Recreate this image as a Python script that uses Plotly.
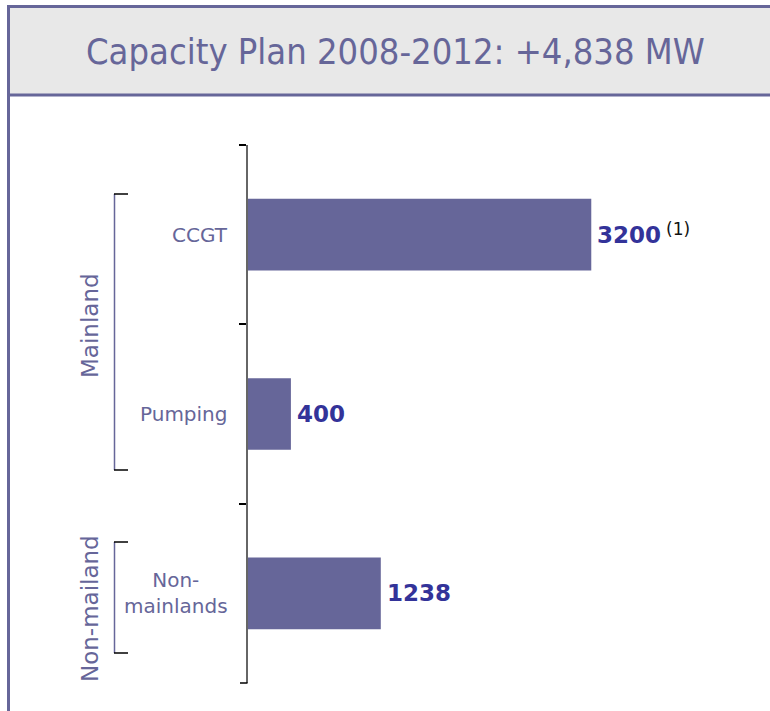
import plotly.graph_objects as go

# Capacity additions planned for 2008-2012 (MW)
categories = ["CCGT", "Pumping", "Non-mainlands"]
category_labels = ["CCGT", "Pumping", "Non-<br>mainlands"]
capacity_mw = [3200, 400, 1238]
value_notes = ["(1)", "", ""]

groups = ["Mainland", "Non-mailand"]
title_text = "Capacity Plan 2008-2012: +4,838 MW"

BAR_COLOR = "#666699"
LABEL_COLOR = "#333399"
TEXT_COLOR = "#666699"

W, H = 770, 711
ML, MR, MT, MB = 248, 50, 145, 28
PW, PH = W - ML - MR, H - MT - MB


def px(x):
    """pixel column -> paper x"""
    return (x - ML) / PW


def py(y):
    """pixel row -> paper y"""
    return (H - MB - y) / PH


fig = go.Figure(
    go.Bar(
        x=capacity_mw,
        y=categories,
        orientation="h",
        width=0.4,
        marker=dict(color=BAR_COLOR, line=dict(width=0)),
        hoverinfo="skip",
    )
)

annotations = []
shapes = []

# value labels at the end of each bar
for cat, val, note in zip(categories, capacity_mw, value_notes):
    annotations.append(dict(
        x=val, y=cat, xref="x", yref="y", text=f"{val}",
        showarrow=False, xanchor="left", yanchor="middle", xshift=4,
        font=dict(family="DejaVu Sans", size=23, color=LABEL_COLOR, weight="bold"),
    ))
    if note:
        annotations.append(dict(
            x=val, y=cat, xref="x", yref="y", text=note,
            showarrow=False, xanchor="left", yanchor="middle",
            xshift=73, yshift=6,
            font=dict(family="DejaVu Sans", size=17, color="#111111"),
        ))

# category labels left of the axis
for cat, lab in zip(categories, category_labels):
    annotations.append(dict(
        x=0, y=cat, xref="paper", yref="y", text=lab, align="center",
        showarrow=False, xanchor="right", yanchor="middle", xshift=-18,
        font=dict(family="DejaVu Sans", size=20, color=TEXT_COLOR),
    ))

# group labels and brackets
group_spans = [(194, 470), (542, 653)]
group_label_rows = [326, 609]
for name, (top, bot), row in zip(groups, group_spans, group_label_rows):
    annotations.append(dict(
        x=px(90), y=py(row),
        xref="paper", yref="paper", text=name, textangle=-90,
        showarrow=False, xanchor="center", yanchor="middle",
        font=dict(family="DejaVu Sans", size=23, color=TEXT_COLOR),
    ))
    shapes.append(dict(type="line", xref="paper", yref="paper",
                       x0=px(114.5), x1=px(114.5), y0=py(top), y1=py(bot),
                       line=dict(color=TEXT_COLOR, width=1.5)))
    for yy in (top, bot):
        shapes.append(dict(type="line", xref="paper", yref="paper",
                           x0=px(114), x1=px(128), y0=py(yy), y1=py(yy),
                           line=dict(color="#000000", width=1.5)))

# closing tick at the bottom end of the category axis
shapes.append(dict(type="line", xref="paper", yref="paper",
                   x0=px(240), x1=px(247.5), y0=0, y1=0,
                   line=dict(color="#000000", width=1.5)))

# title box and frame
shapes.append(dict(type="rect", xref="paper", yref="paper",
                   x0=px(8.5), x1=px(800), y0=py(95), y1=py(6.5),
                   fillcolor="#e8e8e8", line=dict(color="#666699", width=3),
                   layer="below"))
shapes.append(dict(type="line", xref="paper", yref="paper",
                   x0=px(8.5), x1=px(8.5), y0=py(95), y1=py(720),
                   line=dict(color="#666699", width=3)))

annotations.append(dict(
    x=px(395), y=py(52), xref="paper", yref="paper", text=title_text,
    showarrow=False, xanchor="center", yanchor="middle",
    font=dict(family="Liberation Sans Narrow, DejaVu Sans Condensed, sans-serif",
              size=36, color=TEXT_COLOR),
))

fig.update_layout(
    width=W, height=H,
    margin=dict(l=ML, r=MR, t=MT, b=MB, pad=0),
    paper_bgcolor="white", plot_bgcolor="white",
    showlegend=False,
    bargap=0.6,
    xaxis=dict(range=[0, 4400], visible=False, fixedrange=True),
    yaxis=dict(
        type="category", categoryorder="array", categoryarray=categories,
        range=[2.5, -0.5], showticklabels=False, showgrid=False,
        zeroline=False, showline=True, linecolor="#666666", linewidth=1.5,
        ticks="outside", tickson="boundaries", ticklen=7,
        tickcolor="#000000", tickwidth=1.5, fixedrange=True,
    ),
    annotations=annotations,
    shapes=shapes,
)

fig.write_html("out.html")
